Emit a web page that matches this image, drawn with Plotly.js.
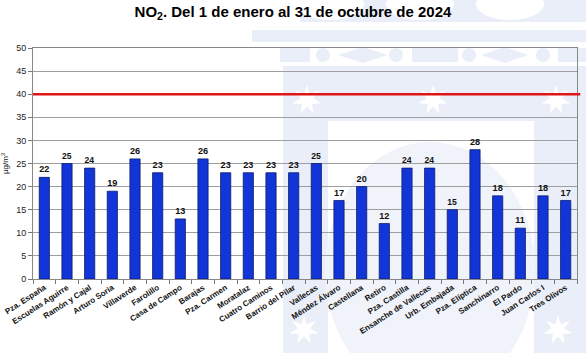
<!DOCTYPE html>
<html>
<head>
<meta charset="utf-8">
<script src="https://cdn.plot.ly/plotly-3.0.1.min.js"></script>
<style>
  html, body { margin: 0; padding: 0; background: #ffffff; }
  #chart { width: 586px; height: 353px; }
</style>
</head>
<body>
<div id="chart"></div>
<script>
// Annual NO2 means per monitoring station (µg/m³), 1 Jan – 31 Oct 2024
const stations = [
  "Pza. España", "Escuelas Aguirre", "Ramón y Cajal", "Arturo Soria", "Villaverde",
  "Farolillo", "Casa de Campo", "Barajas", "Pza. Carmen", "Moratalaz",
  "Cuatro Caminos", "Barrio del Pilar", "Vallecas", "Méndez Álvaro", "Castellana",
  "Retiro", "Pza. Castilla", "Ensanche de Vallecas", "Urb. Embajada", "Pza. Elíptica",
  "Sanchinarro", "El Pardo", "Juan Carlos I", "Tres Olivos"
];
const no2Values = [22, 25, 24, 19, 26, 23, 13, 26, 23, 23, 23, 23, 25, 17, 20, 12, 24, 24, 15, 28, 18, 11, 18, 17];
const limitValue = 40;
const yTicks = [0, 5, 10, 15, 20, 25, 30, 35, 40, 45, 50];

// page geometry
const W = 586, H = 353;
const M = { l: 33, r: 9, t: 48, b: 74 };
const PW = W - M.l - M.r, PH = H - M.t - M.b;
// pixel -> paper coordinates for the background emblem
const X = px => (px - M.l) / PW;
const Y = py => (H - M.b - py) / PH;

const tint = "#e9eef8";

function rect(x0, y0, x1, y1, fill) {
  return { type: "rect", xref: "paper", yref: "paper", layer: "below",
    x0: X(x0), x1: X(x1), y0: Y(y1), y1: Y(y0), fillcolor: fill, line: { width: 0 } };
}
function ellipse(cx, cy, rx, ry, fill) {
  return { type: "circle", xref: "paper", yref: "paper", layer: "below",
    x0: X(cx - rx), x1: X(cx + rx), y0: Y(cy + ry), y1: Y(cy - ry), fillcolor: fill, line: { width: 0 } };
}
function poly(points, fill) {
  const d = points.map((p, i) => (i ? "L" : "M") + X(p[0]) + "," + Y(p[1])).join(" ") + " Z";
  return { type: "path", xref: "paper", yref: "paper", layer: "below", path: d,
    fillcolor: fill, line: { width: 0 } };
}
function star(cx, cy, R, r, fill) {
  const pts = [];
  for (let i = 0; i < 14; i++) {
    const a = -Math.PI / 2 + i * Math.PI / 7;
    const rad = i % 2 ? r : R;
    pts.push([cx + rad * Math.cos(a), cy + rad * Math.sin(a)]);
  }
  return poly(pts, fill);
}
function diamond(x0, x1, cy, h, fill) {
  return poly([[x0, cy], [(x0 + x1) / 2, cy - h], [x1, cy], [(x0 + x1) / 2, cy + h]], fill);
}

// faint city emblem behind the plot
const emblem = [
  rect(300, 0, 586, 22, tint),
  ellipse(330, 4, 34, 16, "#ffffff"),
  ellipse(420, 4, 34, 16, "#ffffff"),
  ellipse(510, 4, 34, 16, "#ffffff"),
  rect(252, 30, 586, 42, tint),
  rect(280, 48, 310, 62, tint),
  ellipse(323, 55, 7, 7, tint),
  diamond(338, 388, 55, 8, tint),
  ellipse(396, 55, 7, 7, tint),
  rect(412, 48, 458, 62, tint),
  ellipse(469, 55, 7, 7, tint),
  diamond(481, 528, 55, 8, tint),
  ellipse(543, 55, 7, 7, tint),
  rect(558, 48, 586, 62, tint),
  rect(283, 66, 586, 353, tint),
  rect(328, 121, 534, 353, "#ffffff"),
  ellipse(430, 270, 105, 128, "#f0f3fa"),
  star(307, 100, 15, 6.5, "#ffffff"),
  star(433, 100, 15, 6.5, "#ffffff"),
  star(556, 100, 15, 6.5, "#ffffff"),
  star(304, 330, 15, 6.5, "#ffffff"),
  star(558, 330, 15, 6.5, "#ffffff")
];

const bars = {
  type: "bar",
  x: stations,
  y: no2Values,
  text: no2Values.map(String),
  textposition: "outside",
  cliponaxis: false,
  textfont: { family: "Liberation Sans, Arial, sans-serif", size: 9.5, color: "#111111", weight: "bold" },
  marker: { color: "#1235d8", line: { color: "#0b1c6e", width: 0.8 } },
  hoverinfo: "x+y"
};

const layout = {
  width: W, height: H,
  margin: M,
  paper_bgcolor: "#ffffff",
  plot_bgcolor: "rgba(0,0,0,0)",
  showlegend: false,
  bargap: 0.55,
  font: { family: "Liberation Sans, Arial, sans-serif", color: "#111111" },
  title: {
    text: "NO<sub>2</sub>. Del 1 de enero al 31 de octubre de 2024",
    font: { family: "Liberation Sans, Arial, sans-serif", size: 15, color: "#000000", weight: "bold" },
    x: 0.5, xref: "container", xanchor: "center",
    y: 0.968, yref: "container", yanchor: "middle"
  },
  xaxis: {
    type: "category",
    tickangle: -33,
    tickfont: { size: 8, color: "#111111", weight: "bold" },
    ticks: "outside", tickson: "boundaries", ticklen: 4, tickcolor: "#777777",
    showline: true, linecolor: "#888888", linewidth: 1, mirror: true,
    showgrid: false, fixedrange: true
  },
  yaxis: {
    range: [0, 50],
    tickvals: yTicks,
    tickfont: { size: 9, color: "#222222" },
    ticks: "outside", ticklen: 4, tickcolor: "#777777",
    showline: true, linecolor: "#888888", linewidth: 1, mirror: true,
    showgrid: true, gridcolor: "#9e9e9e", gridwidth: 1,
    zeroline: false,
    title: { text: "µg/m<sup>3</sup>", font: { size: 8, color: "#111111" }, standoff: 6 },
    fixedrange: true
  },
  shapes: emblem.concat([
    { type: "line", xref: "paper", yref: "y", x0: 0, x1: 1.006, y0: limitValue, y1: limitValue,
      line: { color: "#e01515", width: 2.5 }, layer: "above" }
  ])
};

Plotly.newPlot("chart", [bars], layout, { displayModeBar: false, staticPlot: true });
</script>
</body>
</html>
